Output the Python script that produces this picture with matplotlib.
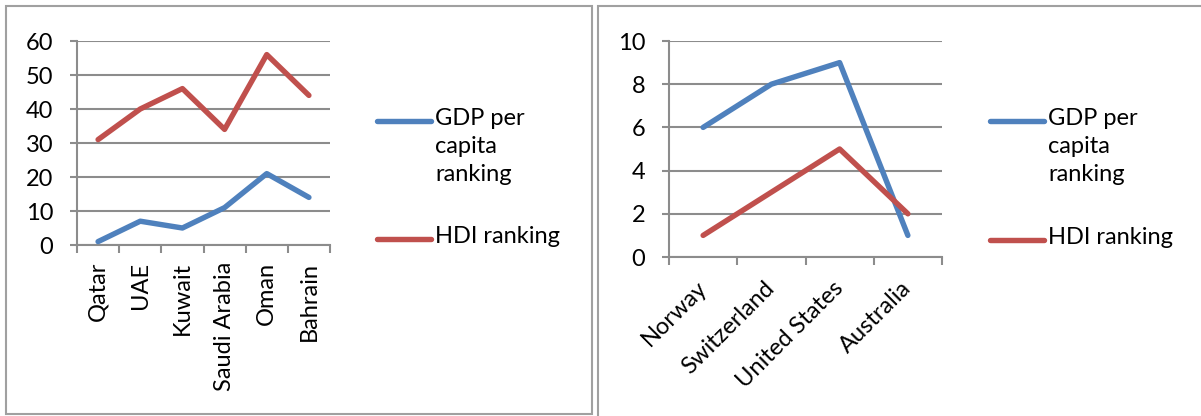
import matplotlib.pyplot as plt
from matplotlib.lines import Line2D
from matplotlib.patches import Rectangle

plt.rcParams['font.family'] = ['Lato', 'DejaVu Sans']

gulf = ['Qatar', 'UAE', 'Kuwait', 'Saudi Arabia', 'Oman', 'Bahrain']
gulf_gdp = [1, 7, 5, 11, 21, 14]
gulf_hdi = [31, 40, 46, 34, 56, 44]

west = ['Norway', 'Switzerland', 'United States', 'Australia']
west_gdp = [6, 8, 9, 1]
west_hdi = [1, 3, 5, 2]

blue = '#4F81BD'
red = '#C0504D'
gray = '#8C8C8C'
fs = 17

W, H = 1201, 416
fig = plt.figure(figsize=(W / 100, H / 100), dpi=100)


def px(x0, y0, x1, y1):
    # pixel box (top-left origin) -> figure fraction rect
    return [x0 / W, 1 - y1 / H, (x1 - x0) / W, (y1 - y0) / H]


def panel(rect, cats, gdp, hdi, ymax, ystep, rot):
    ax = fig.add_axes(rect)
    n = len(cats)
    x = list(range(n))
    ax.plot(x, gdp, color=blue, lw=3.9, solid_capstyle='round', solid_joinstyle='round', zorder=3)
    ax.plot(x, hdi, color=red, lw=3.9, solid_capstyle='round', solid_joinstyle='round', zorder=3)
    ax.set_xlim(-0.5, n - 0.5)
    ax.set_ylim(0, ymax)
    ax.set_yticks(range(0, ymax + 1, ystep))
    ax.yaxis.grid(True, color=gray, lw=1.5)
    ax.set_axisbelow(True)
    for s in ['top', 'right']:
        ax.spines[s].set_visible(False)
    for s in ['left', 'bottom']:
        ax.spines[s].set_color(gray)
        ax.spines[s].set_linewidth(1.5)
    ax.set_xticks(x)
    ax.set_xticks([i - 0.5 for i in range(n + 1)], minor=True)
    ax.tick_params(axis='x', which='major', length=0, pad=12)
    ax.tick_params(axis='x', which='minor', length=6, width=1.5, color=gray)
    ax.tick_params(axis='y', length=5, width=1.5, color=gray, pad=12, labelsize=fs)
    if rot == 90:
        ax.set_xticklabels(cats, rotation=90, fontsize=fs, ha='center', va='top')
    else:
        ax.set_xticklabels(cats, rotation=45, fontsize=fs, ha='right', va='center',
                           rotation_mode='anchor')
        ax.tick_params(axis='x', which='major', pad=20)
    return ax


panel(px(77, 41, 330, 245), gulf, gulf_gdp, gulf_hdi, 60, 10, 90)
panel(px(669, 41, 942, 257), west, west_gdp, west_hdi, 10, 2, 45)


def legend(x0, y_gdp, y_hdi):
    for y, c, lab in [(y_gdp, blue, 'GDP per\ncapita\nranking'), (y_hdi, red, 'HDI ranking')]:
        fig.add_artist(Line2D([x0 / W, (x0 + 54) / W], [1 - y / H, 1 - y / H], color=c,
                              lw=3.9, solid_capstyle='round'))
        fig.text((x0 + 58) / W, 1 - (y - 13) / H, lab, fontsize=fs, ha='left', va='top',
                 linespacing=1.4)


legend(377, 121, 239)
legend(990, 121, 240)

fig.add_artist(Rectangle((6 / W, 1 - 414 / H), 586 / W, 408 / H, fill=False,
                         edgecolor='#A0A0A0', lw=1.5, transform=fig.transFigure))
fig.add_artist(Rectangle((598 / W, -0.1), 700 / W, 1.1 - 6 / H, fill=False,
                         edgecolor='#A0A0A0', lw=1.5, transform=fig.transFigure))

fig.savefig('out.png', dpi=100)
